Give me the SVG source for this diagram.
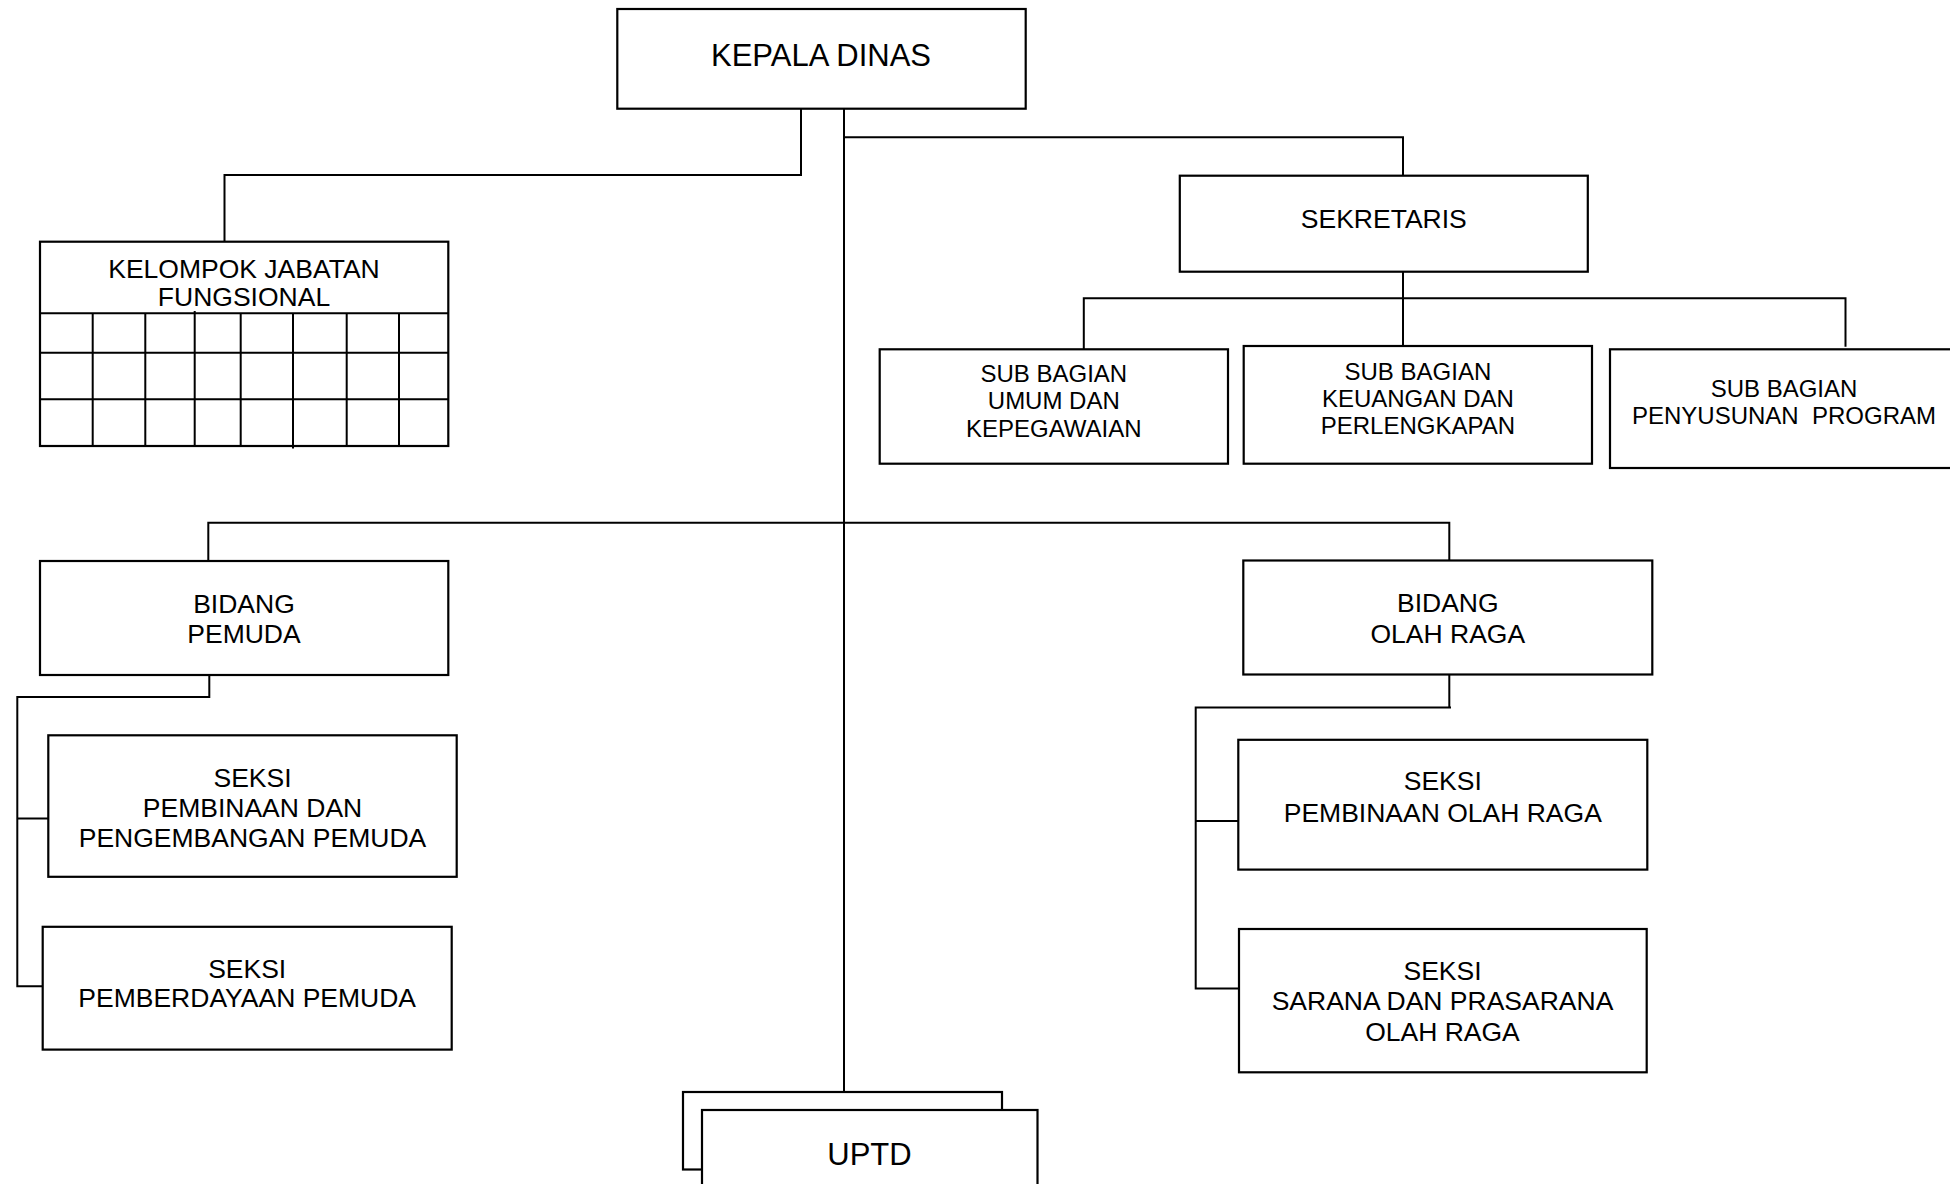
<svg xmlns="http://www.w3.org/2000/svg" width="1950" height="1184" viewBox="0 0 1950 1184">
<style>
  .box { fill: #ffffff; stroke: #000000; stroke-width: 2.2; }
  .ln { fill: none; stroke: #000000; stroke-width: 2; }
  text { font-family: "Liberation Sans", Arial, sans-serif; fill: #000000; text-anchor: middle; }
  .t31 { font-size: 31px; }
  .t26 { font-size: 26.5px; }
  .t24 { font-size: 24px; }
</style>
<rect x="0" y="0" width="1950" height="1184" fill="#ffffff"/>

<g id="connectors">
  <path class="ln" d="M801 108.7 V175 H224.5 V241.7"/>
  <path class="ln" d="M844 108.7 V1092"/>
  <path class="ln" d="M844 137.3 H1403 V175.7"/>
  <path class="ln" d="M1403 271.7 V346"/>
  <path class="ln" d="M1083.8 349.3 V298.3 H1845.5 V346.7"/>
  <path class="ln" d="M208.3 561 V522.7 H1449.3 V560.5"/>
  <path class="ln" d="M209.3 675 V697 H17.3 V986.3 H42.7"/>
  <path class="ln" d="M17.3 818.5 H48.3"/>
  <path class="ln" d="M1449.3 674.5 V707.4"/>
  <path class="ln" d="M1451 707.4 H1195.7 V988.5 H1239"/>
  <path class="ln" d="M1195.7 821 H1238.3"/>
</g>

<g id="kepala-dinas">
  <rect class="box" x="617.3" y="9" width="408.4" height="99.7"/>
  <text class="t31" x="821" y="65.7">KEPALA DINAS</text>
</g>

<g id="kelompok-jabatan-fungsional">
  <rect class="box" x="40" y="241.7" width="408.3" height="204.3"/>
  <path class="ln" d="M40 313.3 H448.3 M40 352.7 H448.3 M40 399.3 H448.3"/>
  <path class="ln" d="M92.7 313.3 V446 M145.3 313.3 V446 M194.7 311 V446 M240.7 313.3 V446 M293 313.3 V448.5 M346.7 313.3 V446 M399 313.3 V446"/>
  <text class="t26" x="244" y="277.7">KELOMPOK JABATAN</text>
  <text class="t26" x="244" y="306">FUNGSIONAL</text>
</g>

<g id="sekretaris">
  <rect class="box" x="1179.8" y="175.7" width="408" height="96"/>
  <text class="t26" x="1383.8" y="227.5">SEKRETARIS</text>
</g>

<g id="sub-bagian-umum">
  <rect class="box" x="879.7" y="349.3" width="348.3" height="114.4"/>
  <text class="t24" x="1053.8" y="381.7">SUB BAGIAN</text>
  <text class="t24" x="1053.8" y="409.3">UMUM DAN</text>
  <text class="t24" x="1053.8" y="436.7">KEPEGAWAIAN</text>
</g>

<g id="sub-bagian-keuangan">
  <rect class="box" x="1243.7" y="346" width="348.3" height="117.7"/>
  <text class="t24" x="1417.9" y="380">SUB BAGIAN</text>
  <text class="t24" x="1417.9" y="406.7">KEUANGAN DAN</text>
  <text class="t24" x="1417.9" y="434">PERLENGKAPAN</text>
</g>

<g id="sub-bagian-penyusunan">
  <rect class="box" x="1610" y="349.3" width="360" height="118.7"/>
  <text class="t24" x="1784" y="396.7">SUB BAGIAN</text>
  <text class="t24" x="1784" y="424.3" xml:space="preserve" style="white-space:pre">PENYUSUNAN  PROGRAM</text>
</g>

<g id="bidang-pemuda">
  <rect class="box" x="40" y="561" width="408.3" height="114"/>
  <text class="t26" x="244" y="613.3">BIDANG</text>
  <text class="t26" x="244" y="643.3">PEMUDA</text>
</g>

<g id="seksi-pembinaan-pemuda">
  <rect class="box" x="48.3" y="735.3" width="408.4" height="141.5"/>
  <text class="t26" x="252.5" y="786.8">SEKSI</text>
  <text class="t26" x="252.5" y="817.1">PEMBINAAN DAN</text>
  <text class="t26" x="252.5" y="847.1">PENGEMBANGAN PEMUDA</text>
</g>

<g id="seksi-pemberdayaan-pemuda">
  <rect class="box" x="42.7" y="926.8" width="409" height="122.8"/>
  <text class="t26" x="247.2" y="977.5">SEKSI</text>
  <text class="t26" x="247.2" y="1007.1">PEMBERDAYAAN PEMUDA</text>
</g>

<g id="bidang-olah-raga">
  <rect class="box" x="1243.3" y="560.5" width="409" height="114"/>
  <text class="t26" x="1447.8" y="612.1">BIDANG</text>
  <text class="t26" x="1447.8" y="643.2">OLAH RAGA</text>
</g>

<g id="seksi-pembinaan-olah-raga">
  <rect class="box" x="1238.3" y="739.8" width="409" height="129.8"/>
  <text class="t26" x="1442.8" y="790.4">SEKSI</text>
  <text class="t26" x="1442.8" y="821.9">PEMBINAAN OLAH RAGA</text>
</g>

<g id="seksi-sarana-prasarana">
  <rect class="box" x="1239" y="929" width="407.7" height="143.3"/>
  <text class="t26" x="1442.5" y="980">SEKSI</text>
  <text class="t26" x="1442.5" y="1010">SARANA DAN PRASARANA</text>
  <text class="t26" x="1442.5" y="1041.3">OLAH RAGA</text>
</g>

<g id="uptd">
  <rect class="box" x="683" y="1092" width="319" height="77.5"/>
  <rect class="box" x="702" y="1110" width="335.5" height="100"/>
  <text class="t31" x="869.5" y="1165">UPTD</text>
</g>
</svg>
